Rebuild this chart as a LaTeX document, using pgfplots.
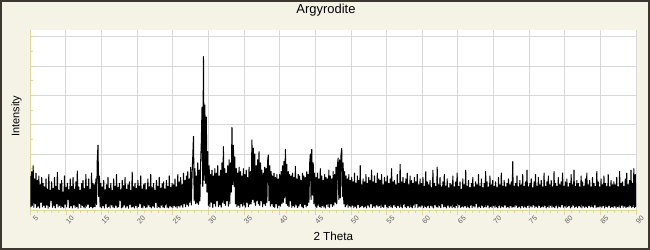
\documentclass[border=0pt]{standalone}
\usepackage{pgfplots}
\pgfplotsset{compat=1.18}
\usepackage{fontspec}
\setmainfont{Liberation Sans}
\definecolor{bgc}{RGB}{245,242,230}
\definecolor{bordc}{RGB}{60,56,48}
\definecolor{axcol}{RGB}{222,214,158}
\definecolor{gridc}{RGB}{216,216,216}
\definecolor{labc}{RGB}{95,95,95}
\begin{document}
\begin{tikzpicture}
\path[use as bounding box] (0bp,0bp) rectangle (650bp,250bp);
\fill[bgc] (0bp,0bp) rectangle (650bp,250bp);
\draw[bordc,line width=1.6bp] (0.8bp,0.8bp) rectangle (649.2bp,249.2bp);
\begin{axis}[
  at={(30.3bp,40bp)}, anchor=south west,
  width=605.7bp, height=180bp, scale only axis,
  xmin=5, xmax=90, ymin=89, ymax=6232,
  axis background/.style={fill=white},
  axis x line*=bottom, axis y line*=left,
  axis line style={axcol, line width=1bp},
  xtick={5,10,...,90}, minor x tick num=4,
  ytick={1000,2000,...,6000}, yticklabels={}, minor y tick num=1,
  xmajorgrids, ymajorgrids,
  major grid style={gridc, line width=0.9bp},
  tick align=inside,
  major tick length=5bp, minor tick length=3bp,
  tick style={axcol, line width=0.8bp},
  major x tick style={yshift=-5bp}, minor x tick style={yshift=-3bp},
  x tick label style={rotate=45, anchor=east, font=\fontsize{7.2}{8}\selectfont, text=labc, inner sep=0pt, xshift=0bp, yshift=-9.8bp},
  /pgf/number format/assume math mode=true,
]
\addplot[black, line width=1.05bp, line join=round, mark=none] coordinates {
(5.0,1250)(5.1,200)(5.2,1400)(5.3,250)(5.4,1600)(5.5,180)(5.6,1150)(5.7,300)(5.8,1350)(5.9,170)
(6.0,1100)(6.1,220)(6.2,1250)(6.3,160)(6.4,950)(6.5,350)(6.6,1200)(6.7,190)(6.8,1000)(6.9,240)
(7.0,880)(7.1,170)(7.2,1150)(7.3,260)(7.4,800)(7.5,150)(7.6,1300)(7.7,200)(7.8,760)(7.9,420)
(8.0,1050)(8.1,180)(8.2,820)(8.3,230)(8.4,1200)(8.5,160)(8.6,900)(8.7,300)(8.8,1380)(8.9,190)
(9.0,760)(9.1,250)(9.2,980)(9.3,170)(9.4,1100)(9.5,210)(9.6,700)(9.7,160)(9.8,1250)(9.9,280)
(10.0,850)(10.1,190)(10.2,1000)(10.3,450)(10.4,780)(10.5,170)(10.6,1150)(10.7,230)(10.8,900)(10.9,160)
(11.0,1200)(11.1,260)(11.2,800)(11.3,180)(11.4,1050)(11.5,200)(11.6,1420)(11.7,150)(11.8,880)(11.9,310)
(12.0,760)(12.1,170)(12.2,990)(12.3,240)(12.4,1100)(12.5,190)(12.6,820)(12.7,160)(12.8,1300)(12.9,220)
(13.0,900)(13.1,280)(13.2,1150)(13.3,170)(13.4,790)(13.5,210)(13.6,1350)(13.7,160)(13.8,1000)(13.9,190)
(14.0,950)(14.1,200)(14.2,1150)(14.3,280)(14.4,1800)(14.5,2300)(14.6,550)(14.7,1250)(14.8,190)(14.9,1000)
(15.0,170)(15.1,880)(15.2,230)(15.3,1100)(15.4,160)(15.5,780)(15.6,300)(15.7,950)(15.8,180)(15.9,1200)
(16.0,210)(16.1,820)(16.2,160)(16.3,1000)(16.4,260)(16.5,750)(16.6,190)(16.7,1150)(16.8,170)(16.9,900)
(17.0,240)(17.1,1300)(17.2,180)(17.3,850)(17.4,200)(17.5,1000)(17.6,420)(17.7,780)(17.8,160)(17.9,1100)
(18.0,190)(18.1,920)(18.2,260)(18.3,1200)(18.4,170)(18.5,800)(18.6,220)(18.7,950)(18.8,150)(18.9,1050)
(19.0,280)(19.1,760)(19.2,190)(19.3,1380)(19.4,200)(19.5,880)(19.6,160)(19.7,1000)(19.8,240)(19.9,830)
(20.0,170)(20.1,1100)(20.2,210)(20.3,900)(20.4,300)(20.5,1250)(20.6,180)(20.7,800)(20.8,160)(20.9,950)
(21.0,230)(21.1,1000)(21.2,170)(21.3,780)(21.4,190)(21.5,1150)(21.6,260)(21.7,880)(21.8,200)(21.9,1300)
(22.0,160)(22.1,850)(22.2,230)(22.3,1000)(22.4,180)(22.5,760)(22.6,350)(22.7,1100)(22.8,170)(22.9,900)
(23.0,200)(23.1,1200)(23.2,160)(23.3,830)(23.4,250)(23.5,980)(23.6,190)(23.7,1050)(23.8,170)(23.9,800)
(24.0,260)(24.1,1100)(24.2,180)(24.3,900)(24.4,160)(24.5,1250)(24.6,220)(24.7,850)(24.8,190)(24.9,1000)
(25.0,170)(25.1,950)(25.2,240)(25.3,1150)(25.4,200)(25.5,880)(25.6,160)(25.7,1300)(25.8,230)(25.9,1050)
(26.0,190)(26.1,1200)(26.2,260)(26.3,950)(26.4,180)(26.5,1350)(26.6,300)(26.7,1100)(26.8,200)(26.9,1250)
(27.0,280)(27.1,1400)(27.2,220)(27.3,1150)(27.4,350)(27.5,1550)(27.6,260)(27.7,1300)(27.8,1900)(27.9,2600)
(28.0,400)(28.1,1500)(28.2,300)(28.3,1250)(28.4,330)(28.5,1700)(28.6,280)(28.7,1450)(28.8,400)(28.9,1650)
(29.0,2400)(29.1,3600)(29.2,900)(29.3,5320)(29.4,1100)(29.5,3670)(29.6,1000)(29.7,3260)(29.8,700)(29.9,2080)
(30.0,250)(30.1,1600)(30.2,200)(30.3,1300)(30.4,350)(30.5,1450)(30.6,180)(30.7,1250)(30.8,300)(30.9,1500)
(31.0,220)(31.1,1350)(31.2,400)(31.3,1600)(31.4,200)(31.5,1250)(31.6,260)(31.7,1450)(31.8,190)(31.9,1700)
(32.0,350)(32.1,2250)(32.2,300)(32.3,1500)(32.4,250)(32.5,1350)(32.6,400)(32.7,1600)(32.8,220)(32.9,1800)
(33.0,300)(33.1,1700)(33.2,700)(33.3,2910)(33.4,950)(33.5,2300)(33.6,900)(33.7,1900)(33.8,300)(33.9,1500)
(34.0,200)(34.1,1350)(34.2,250)(34.3,1550)(34.4,180)(34.5,1400)(34.6,300)(34.7,1250)(34.8,220)(34.9,1500)
(35.0,260)(35.1,1300)(35.2,190)(35.3,1450)(35.4,350)(35.5,1200)(35.6,200)(35.7,1550)(35.8,280)(35.9,1400)
(36.0,300)(36.1,2480)(36.2,450)(36.3,2200)(36.4,350)(36.5,2000)(36.6,250)(36.7,1600)(36.8,400)(36.9,1800)
(37.0,300)(37.1,2080)(37.2,250)(37.3,1700)(37.4,400)(37.5,1450)(37.6,200)(37.7,1350)(37.8,300)(37.9,1550)
(38.0,250)(38.1,1500)(38.2,350)(38.3,1750)(38.4,1965)(38.5,400)(38.6,1600)(38.7,220)(38.8,1400)(38.9,300)
(39.0,1250)(39.1,200)(39.2,1350)(39.3,180)(39.4,1200)(39.5,300)(39.6,1300)(39.7,160)(39.8,1150)(39.9,250)
(40.0,1300)(40.1,220)(40.2,1400)(40.3,300)(40.4,1600)(40.5,350)(40.6,1750)(40.7,500)(40.8,2160)(40.9,300)
(41.0,1650)(41.1,250)(41.2,1400)(41.3,200)(41.4,1300)(41.5,400)(41.6,1250)(41.7,180)(41.8,1350)(41.9,230)
(42.0,1200)(42.1,190)(42.2,1580)(42.3,260)(42.4,1150)(42.5,170)(42.6,1300)(42.7,220)(42.8,1250)(42.9,300)
(43.0,1100)(43.1,200)(43.2,1350)(43.3,160)(43.4,1250)(43.5,280)(43.6,1200)(43.7,190)(43.8,1400)(43.9,240)
(44.0,1300)(44.1,350)(44.2,1650)(44.3,2000)(44.4,450)(44.5,2160)(44.6,600)(44.7,1700)(44.8,300)(44.9,1350)
(45.0,220)(45.1,1200)(45.2,180)(45.3,1350)(45.4,250)(45.5,1150)(45.6,200)(45.7,1500)(45.8,170)(45.9,1250)
(46.0,230)(46.1,1100)(46.2,190)(46.3,1300)(46.4,160)(46.5,1200)(46.6,280)(46.7,1150)(46.8,200)(46.9,1450)
(47.0,180)(47.1,1250)(47.2,300)(47.3,1150)(47.4,210)(47.5,1400)(47.6,250)(47.7,1300)(47.8,350)(47.9,1550)
(48.0,300)(48.1,1600)(48.2,1860)(48.3,450)(48.4,1800)(48.5,500)(48.6,1950)(48.7,2190)(48.8,550)(48.9,1700)
(49.0,300)(49.1,1400)(49.2,200)(49.3,1250)(49.4,260)(49.5,1150)(49.6,180)(49.7,1300)(49.8,230)(49.9,1100)
(50.0,190)(50.1,1200)(50.2,250)(50.3,1050)(50.4,170)(50.5,1350)(50.6,210)(50.7,1000)(50.8,160)(50.9,1250)
(51.0,280)(51.1,1100)(51.2,180)(51.3,1600)(51.4,200)(51.5,950)(51.6,240)(51.7,1150)(51.8,170)(51.9,1050)
(52.0,210)(52.1,1300)(52.2,160)(52.3,1000)(52.4,250)(52.5,1200)(52.6,190)(52.7,1100)(52.8,300)(52.9,1450)
(53.0,170)(53.1,1050)(53.2,220)(53.3,1250)(53.4,180)(53.5,1000)(53.6,260)(53.7,1350)(53.8,200)(53.9,1150)
(54.0,240)(54.1,1100)(54.2,170)(54.3,1300)(54.4,210)(54.5,950)(54.6,180)(54.7,1200)(54.8,280)(54.9,1050)
(55.0,200)(55.1,1250)(55.2,160)(55.3,1000)(55.4,230)(55.5,1150)(55.6,190)(55.7,1500)(55.8,170)(55.9,1050)
(56.0,260)(56.1,1100)(56.2,200)(56.3,950)(56.4,170)(56.5,1300)(56.6,240)(56.7,1000)(56.8,180)(56.9,1650)
(57.0,210)(57.1,1050)(57.2,160)(57.3,1200)(57.4,280)(57.5,1000)(57.6,190)(57.7,1150)(57.8,170)(57.9,1350)
(58.0,230)(58.1,950)(58.2,180)(58.3,1250)(58.4,200)(58.5,1100)(58.6,160)(58.7,1000)(58.8,250)(58.9,1200)
(59.0,180)(59.1,1050)(59.2,300)(59.3,1300)(59.4,170)(59.5,950)(59.6,220)(59.7,1150)(59.8,190)(59.9,1000)
(60.0,250)(60.1,1200)(60.2,170)(60.3,900)(60.4,210)(60.5,1400)(60.6,180)(60.7,1050)(60.8,230)(60.9,950)
(61.0,170)(61.1,1100)(61.2,240)(61.3,850)(61.4,190)(61.5,1450)(61.6,160)(61.7,1000)(61.8,260)(61.9,900)
(62.0,200)(62.1,1550)(62.2,180)(62.3,950)(62.4,230)(62.5,1200)(62.6,170)(62.7,880)(62.8,300)(62.9,1050)
(63.0,190)(63.1,1300)(63.2,210)(63.3,900)(63.4,160)(63.5,1150)(63.6,250)(63.7,850)(63.8,180)(63.9,1000)
(64.0,220)(64.1,950)(64.2,170)(64.3,1250)(64.4,200)(64.5,880)(64.6,160)(64.7,1050)(64.8,240)(64.9,1350)
(65.0,180)(65.1,900)(65.2,260)(65.3,1050)(65.4,170)(65.5,800)(65.6,210)(65.7,1150)(65.8,190)(65.9,950)
(66.0,230)(66.1,1450)(66.2,180)(66.3,900)(66.4,200)(66.5,1100)(66.6,160)(66.7,850)(66.8,250)(66.9,1000)
(67.0,170)(67.1,1200)(67.2,220)(67.3,880)(67.4,190)(67.5,1050)(67.6,300)(67.7,950)(67.8,160)(67.9,1300)
(68.0,210)(68.1,900)(68.2,170)(68.3,1150)(68.4,240)(68.5,850)(68.6,180)(68.7,1000)(68.8,200)(68.9,1400)
(69.0,190)(69.1,1050)(69.2,250)(69.3,880)(69.4,160)(69.5,1250)(69.6,210)(69.7,950)(69.8,170)(69.9,1100)
(70.0,240)(70.1,900)(70.2,180)(70.3,1050)(70.4,200)(70.5,850)(70.6,160)(70.7,1200)(70.8,230)(70.9,950)
(71.0,170)(71.1,1350)(71.2,210)(71.3,900)(71.4,190)(71.5,1100)(71.6,260)(71.7,880)(71.8,180)(71.9,1000)
(72.0,200)(72.1,1150)(72.2,160)(72.3,950)(72.4,230)(72.5,1050)(72.6,180)(72.7,1740)(72.8,200)(72.9,900)
(73.0,190)(73.1,1000)(73.2,250)(73.3,1250)(73.4,170)(73.5,880)(73.6,210)(73.7,1100)(73.8,160)(73.9,950)
(74.0,230)(74.1,1300)(74.2,180)(74.3,900)(74.4,200)(74.5,1050)(74.6,170)(74.7,1450)(74.8,240)(74.9,880)
(75.0,170)(75.1,1000)(75.2,220)(75.3,1150)(75.4,190)(75.5,850)(75.6,260)(75.7,1050)(75.8,180)(75.9,1300)
(76.0,210)(76.1,900)(76.2,170)(76.3,1200)(76.4,240)(76.5,950)(76.6,180)(76.7,1100)(76.8,200)(76.9,880)
(77.0,190)(77.1,1350)(77.2,230)(77.3,900)(77.4,160)(77.5,1050)(77.6,210)(77.7,1250)(77.8,170)(77.9,950)
(78.0,250)(78.1,1100)(78.2,180)(78.3,880)(78.4,200)(78.5,1400)(78.6,170)(78.7,1000)(78.8,230)(78.9,900)
(79.0,160)(79.1,1200)(79.2,210)(79.3,950)(79.4,190)(79.5,1050)(79.6,270)(79.7,1350)(79.8,180)(79.9,900)
(80.0,220)(80.1,1050)(80.2,170)(80.3,1150)(80.4,200)(80.5,880)(80.6,240)(80.7,1000)(80.8,160)(80.9,1300)
(81.0,190)(81.1,950)(81.2,250)(81.3,1450)(81.4,180)(81.5,900)(81.6,210)(81.7,1100)(81.8,170)(81.9,1000)
(82.0,230)(82.1,880)(82.2,190)(82.3,1250)(82.4,160)(82.5,1050)(82.6,220)(82.7,900)(82.8,180)(82.9,1150)
(83.0,200)(83.1,1350)(83.2,170)(83.3,950)(83.4,240)(83.5,1100)(83.6,190)(83.7,880)(83.8,210)(83.9,1200)
(84.0,180)(84.1,1000)(84.2,260)(84.3,900)(84.4,170)(84.5,1400)(84.6,200)(84.7,1050)(84.8,190)(84.9,880)
(85.0,220)(85.1,1150)(85.2,180)(85.3,950)(85.4,230)(85.5,1250)(85.6,160)(85.7,1000)(85.8,210)(85.9,900)
(86.0,190)(86.1,1300)(86.2,240)(86.3,880)(86.4,170)(86.5,1100)(86.6,200)(86.7,950)(86.8,180)(86.9,1050)
(87.0,230)(87.1,950)(87.2,160)(87.3,1200)(87.4,210)(87.5,880)(87.6,190)(87.7,1400)(87.8,170)(87.9,1000)
(88.0,250)(88.1,1050)(88.2,180)(88.3,900)(88.4,220)(88.5,1150)(88.6,170)(88.7,1350)(88.8,200)(88.9,950)
(89.0,190)(89.1,1100)(89.2,230)(89.3,1450)(89.4,180)(89.5,1000)(89.6,210)(89.7,1500)(89.8,170)(89.9,1300)
(90.0,200)
};
\end{axis}
\node[anchor=base, font=\fontsize{13}{15}\selectfont] at (326bp,236.7bp) {Argyrodite};
\node[rotate=90, anchor=base, font=\fontsize{11}{13}\selectfont] at (19.3bp,134bp) {Intensity};
\node[anchor=base, font=\fontsize{11.7}{14}\selectfont] at (333.3bp,10bp) {2 Theta};
\end{tikzpicture}
\end{document}
